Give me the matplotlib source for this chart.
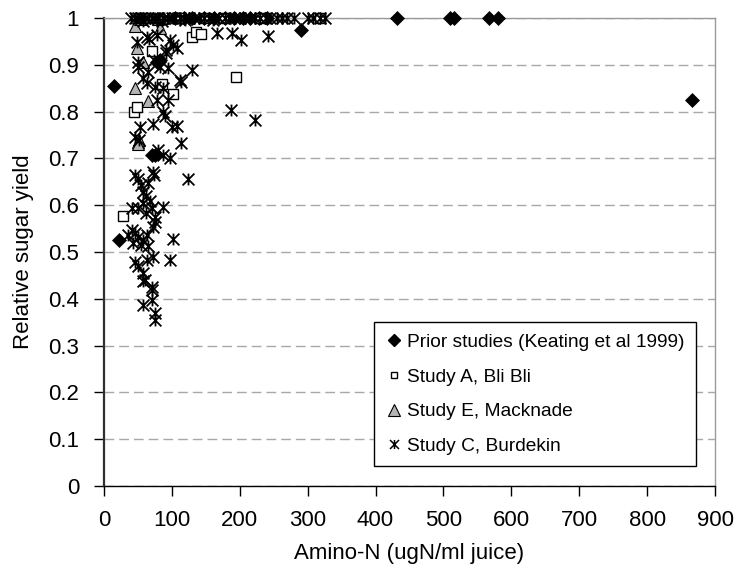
import matplotlib
matplotlib.use("Agg")
import matplotlib.pyplot as plt
from matplotlib.path import Path
from matplotlib.lines import Line2D

plt.rcParams['font.family'] = ['Liberation Sans', 'DejaVu Sans']

# Prior studies (Keating et al 1999)
prior_x = [15, 22, 70, 75, 78, 83, 105, 118, 130, 148, 162, 178, 192, 205, 215,
           228, 240, 290, 432, 510, 516, 567, 581, 866]
prior_y = [0.855, 0.525, 0.707, 0.707, 0.905, 0.91, 1, 1, 1, 1, 1, 1, 1, 1, 1,
           1, 1, 0.975, 1, 1, 1, 1, 1, 0.825]

# Study A, Bli Bli
studyA_x = [28, 44, 49, 70, 86, 102, 129, 136, 143, 195, 52, 110, 150, 175, 230, 318]
studyA_y = [0.577, 0.80, 0.81, 0.93, 0.86, 0.837, 0.96, 0.97, 0.965, 0.875,
            1, 1, 1, 1, 1, 1]

# Study E, Macknade
studyE_x = [46, 50, 52, 48, 58, 65, 46, 53, 82, 80, 50, 85]
studyE_y = [0.85, 0.735, 0.74, 0.935, 0.905, 0.822, 0.983, 0.998, 0.978, 0.998,
            0.73, 1.0]

# Study C, Burdekin
studyC_x = [48, 63, 66, 78, 97, 102, 107, 92, 92, 50, 50, 73, 82, 94, 65, 129,
            58, 63, 75, 87, 112, 114, 78, 94, 87, 90, 53, 72, 100, 107, 114, 46,
            52, 80, 87, 97, 124, 46, 50, 55, 65, 72, 74, 58, 62, 87, 41, 50, 58,
            68, 70, 62, 75, 75, 72, 41, 46, 50, 57, 63, 36, 43, 55, 65, 102, 72,
            63, 97, 46, 50, 58, 60, 70, 58, 70, 70, 58, 75, 75,
            166, 189, 202, 242, 187, 222,
            40, 45, 50, 55, 60, 65, 70, 75, 80, 88, 95, 100, 105, 112, 118, 125,
            132, 140, 147, 155, 162, 170, 178, 185, 192, 200, 207, 215, 222, 230,
            238, 245, 255, 262, 270, 280, 300, 308, 318, 325, 58, 85, 120, 160]
studyC_y = [0.949, 0.959, 0.955, 0.964, 0.953, 0.942, 0.935, 0.932, 0.925, 0.906,
            0.896, 0.91, 0.896, 0.893, 0.885, 0.889, 0.871, 0.861, 0.853, 0.85,
            0.867, 0.864, 0.825, 0.825, 0.80, 0.79, 0.768, 0.773, 0.768, 0.77,
            0.733, 0.746, 0.74, 0.718, 0.707, 0.70, 0.656, 0.664, 0.655, 0.643,
            0.647, 0.671, 0.664, 0.629, 0.62, 0.597, 0.594, 0.594, 0.604, 0.61,
            0.594, 0.583, 0.575, 0.565, 0.553, 0.547, 0.54, 0.532, 0.525, 0.536,
            0.536, 0.519, 0.515, 0.512, 0.527, 0.49, 0.483, 0.483, 0.479, 0.47,
            0.455, 0.44, 0.425, 0.437, 0.418, 0.397, 0.387, 0.37, 0.355,
            0.969, 0.969, 0.954, 0.961, 0.803, 0.781,
            1, 1, 1, 1, 1, 1, 1, 1, 1, 1, 1, 1, 1, 1, 1, 1,
            1, 1, 1, 1, 1, 1, 1, 1, 1, 1, 1, 1, 1, 1,
            1, 1, 1, 1, 1, 1, 1, 1, 1, 1, 0.993, 0.993, 0.995, 0.995]

x_ticks = [0, 100, 200, 300, 400, 500, 600, 700, 800, 900]
y_ticks = [0, 0.1, 0.2, 0.3, 0.4, 0.5, 0.6, 0.7, 0.8, 0.9, 1]
y_tick_labels = ['0', '0.1', '0.2', '0.3', '0.4', '0.5', '0.6', '0.7', '0.8', '0.9', '1']

# asterisk marker: an X crossed by a vertical bar
star = Path([(-0.5, -0.5), (0.5, 0.5), (-0.5, 0.5), (0.5, -0.5), (0, -0.5), (0, 0.5)],
            [Path.MOVETO, Path.LINETO, Path.MOVETO, Path.LINETO, Path.MOVETO, Path.LINETO])

fig = plt.figure(figsize=(7.39, 5.70), dpi=100)
ax = fig.add_axes([104 / 739, 1 - 486 / 570, 611 / 739, 468 / 570])

ax.set_xlim(0, 900)
ax.set_ylim(0, 1)

ax.yaxis.grid(True, linestyle=(0, (7, 3.6)), color='#a8a8a8', linewidth=1)
ax.set_axisbelow(True)

common = dict(linestyle='none', clip_on=False)
ax.plot(prior_x, prior_y, marker='D', ms=7.2, mfc='black', mec='black', mew=0.5,
        zorder=3, **common)
ax.plot(studyA_x, studyA_y, marker='s', ms=6.5, mfc='white', mec='black', mew=1.0,
        zorder=4, **common)
ax.plot(studyE_x, studyE_y, marker='^', ms=9, mfc='#b4b4b4', mec='black', mew=0.8,
        zorder=5, **common)
ax.plot(studyC_x, studyC_y, marker=star, ms=8.5, mfc='none', mec='black', mew=1.3,
        zorder=6, **common)

ax.set_xticks(x_ticks)
ax.set_yticks(y_ticks)
ax.set_yticklabels(y_tick_labels)
ax.tick_params(axis='both', direction='out', length=7, width=1, labelsize=16,
               colors='black')
ax.tick_params(axis='y', pad=11)
ax.tick_params(axis='x', pad=10)

for side in ('top', 'right'):
    ax.spines[side].set_color('#9a9a9a')
    ax.spines[side].set_linewidth(1)
ax.spines['left'].set_color('#303030')
ax.spines['left'].set_linewidth(1.6)
ax.spines['bottom'].set_color('black')
ax.spines['bottom'].set_linewidth(1)

ax.set_xlabel('Amino-N (ugN/ml juice)', fontsize=16)
ax.set_ylabel('Relative sugar yield', fontsize=16)
ax.xaxis.set_label_coords(0.5, (486 - 554) / 468)
ax.xaxis.label.set_va('center')
ax.yaxis.set_label_coords((24 - 104) / 611, 0.5)
ax.yaxis.label.set_va('center')

handles = [
    Line2D([], [], linestyle='none', marker='D', ms=6, mfc='black', mec='black'),
    Line2D([], [], linestyle='none', marker='s', ms=5, mfc='white', mec='black', mew=1),
    Line2D([], [], linestyle='none', marker='^', ms=8, mfc='#b4b4b4', mec='black', mew=0.8),
    Line2D([], [], linestyle='none', marker=star, ms=6.5, mfc='none', mec='black', mew=1.1),
]
labels = ['Prior studies (Keating et al 1999)', 'Study A, Bli Bli',
          'Study E, Macknade', 'Study C, Burdekin']
leg = ax.legend(handles, labels, loc='upper left',
                bbox_to_anchor=((374 - 104) / 611, (486 - 322) / 468),
                borderaxespad=0, fontsize=13.8, frameon=True, fancybox=False,
                edgecolor='black', framealpha=1, handlelength=0.9,
                handletextpad=0.2, borderpad=0.6, labelspacing=0.9)
leg.get_frame().set_linewidth(1)
leg.set_zorder(10)

fig.savefig('out.png', dpi=100)
